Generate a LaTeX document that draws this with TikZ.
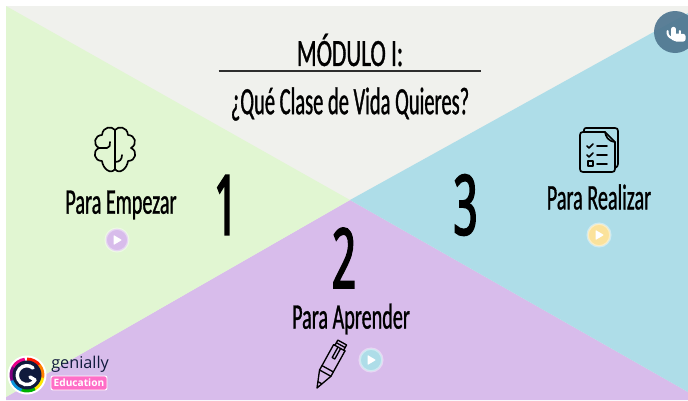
\documentclass[tikz,border=0pt]{standalone}
\usepackage{fontspec}
\newfontfamily\hand[FakeStretch=0.56,FakeBold=0.8]{Carlito}
\newfontfamily\handtitle[FakeStretch=0.6,FakeBold=0.8]{Carlito}
\newfontfamily\handask[FakeStretch=0.53,FakeBold=0.8]{Carlito}
\newfontfamily\handdigit[FakeStretch=0.5,FakeBold=2.5]{Open Sans}
\newfontfamily\logofont{Open Sans}
\setmainfont{Carlito}
\definecolor{bgGrey}{HTML}{F0F1ED}
\definecolor{bgGreen}{HTML}{E1F6D2}
\definecolor{bgPurple}{HTML}{D8BCEB}
\definecolor{bgBlue}{HTML}{AEDDE8}
\definecolor{btnYellow}{HTML}{FBE29B}
\definecolor{lockBlue}{HTML}{4F7690}
\definecolor{logoNavy}{HTML}{101A3C}
\definecolor{logoPink}{HTML}{FF6EC7}
\tikzset{
  heading/.style={font=\handtitle\fontsize{29}{32}\selectfont,inner sep=0pt,text=black},
  askline/.style={font=\handask\fontsize{29}{32}\selectfont,inner sep=0pt,text=black},
  subhead/.style={font=\hand\fontsize{27}{30}\selectfont,inner sep=0pt,text=black},
  numeral/.style={font=\handdigit\fontsize{62}{66}\selectfont,inner sep=0pt,text=black},
  playbtn/.style={circle,minimum size=17pt,inner sep=0pt,fill=#1,draw=white,draw opacity=0.4,line width=1.8pt},
  iconline/.style={draw=black,line width=1.25pt,line join=round,line cap=round},
}
\begin{document}
\begin{tikzpicture}[x=0.75pt,y=-0.75pt]
\useasboundingbox (0,0) rectangle (688,400);
\fill[white] (0,0) rectangle (688,400);
% background sectors
\coordinate (mid) at (350,200);
\fill[bgGrey] (6,6) rectangle (688,400);
\fill[bgPurple] (mid) -- (6,397) -- (6,400) -- (688,400) -- (688,392) -- cycle;
\fill[bgGreen] (6,6) -- (mid) -- (6,397) -- cycle;
\fill[bgBlue] (688,13) -- (mid) -- (688,392) -- cycle;
% title
\node[heading] (title) at (350,50) {MÓDULO I:};
\coordinate (ruleL) at (218.5,71);
\coordinate (ruleR) at (481,71);
\draw[line width=2.1pt,draw=black!82] (ruleL) -- (ruleR);
\node[askline] (question) at (350,104) {¿Qué Clase de Vida Quieres?};
% labels
\node[subhead] (empezar) at (121,205) {Para Empezar};
\node[subhead] (aprender) at (351,319) {Para Aprender};
\node[subhead] (realizar) at (599,197) {Para Realizar};
\node[numeral] (n1) at (226,205) {1};
\node[numeral] (n2) at (344,258) {2};
\node[numeral] (n3) at (465.5,205) {3};
% play buttons
\node[playbtn=bgPurple] (play1) at (117,240) {};
\node[playbtn=bgBlue] (play2) at (371,360) {};
\node[playbtn=btnYellow] (play3) at (599,235) {};
\foreach \b in {play1,play2,play3}{
  \fill[white,rounded corners=0.5pt,shift={(\b)}] (-3.5,-5) -- (5,0) -- (-3.5,5) -- cycle;
}
% brain icon
\begin{scope}[shift={(115,150)}]
  \foreach \s in {1,-1}{
  \begin{scope}[xscale=\s]
    \draw[iconline] (0,-20) .. controls (-3,-24) and (-12,-24) .. (-13,-15)
      .. controls (-20,-15) and (-23,-6) .. (-16,-2)
      .. controls (-23,1) and (-21,11) .. (-13,11)
      .. controls (-12,19) and (-4,25) .. (0,19);
  \end{scope}
  }
  \draw[iconline] (0,-20) -- (0,20);
  \draw[iconline] (-16,-2) -- (-8,-2) .. controls (-5,-2) and (-5,-5) .. (-5,-8);
  \draw[iconline] (0,12) .. controls (5,12) and (7,9) .. (7,5);
\end{scope}
% document icon
\begin{scope}[shift={(580,128)}]
  \draw[iconline] (4,3) -- (4,2) .. controls (4,0.5) and (5,0) .. (6,0) -- (35,0) .. controls (37,0) and (38,1) .. (38,3) -- (38,36) .. controls (38,38) and (37,39) .. (35,40);
  \draw[iconline,fill=bgBlue] (3,4) -- (25,4) -- (35,14) -- (35,41) .. controls (35,43) and (34,44) .. (32,44) -- (3,44) .. controls (1,44) and (0,43) .. (0,41) -- (0,7) .. controls (0,5) and (1,4) .. (3,4) -- cycle;
  \draw[iconline] (25,4) .. controls (26,9) and (28,13) .. (35,14);
  \draw[iconline] (7,18) -- (9,20) -- (13,16);
  \draw[iconline] (17,18) -- (27,18);
  \draw[iconline] (7,27) -- (9,29) -- (13,25);
  \draw[iconline] (17,27) -- (27,27);
  \draw[iconline] (8,33) rectangle (13,38);
  \draw[iconline] (17,36) -- (27,36);
\end{scope}
% pencil icon
\begin{scope}[shift={(317,388)},rotate=-29]
  \draw[iconline,line width=1pt] (0,0) -- (-6.5,-17) -- (-6.5,-46) -- (-5,-46) -- (-5,-52) -- (5,-52) -- (5,-46) -- (6.5,-46) -- (6.5,-17) -- cycle;
  \draw[iconline,line width=1pt] (-6.5,-17) -- (6.5,-17);
  \draw[iconline,line width=1pt] (-6.5,-22) -- (6.5,-22);
  \draw[iconline,line width=1pt] (-2,-6) -- (2,-6);
  \draw[iconline,line width=1pt] (-6.5,-46) -- (6.5,-46);
  \draw[iconline,line width=1pt] (-1.5,-46) -- (-1.5,-34) -- (1.5,-34) -- (1.5,-46);
  \draw[iconline,line width=1pt] (-5,-49) -- (5,-49);
\end{scope}
% genially logo
\fill[white] (27,375) circle (19.5);
\begin{scope}[shift={(27,375)}]
  \foreach \a/\c in {-90/red!80!orange,-40/orange,10/yellow!90!orange,60/green!70!black,110/cyan!80!blue,160/violet,210/magenta}{
    \draw[line width=2.6pt,\c] (\a:15.7) arc (\a:\a+52:15.7);
  }
  \fill[logoNavy] (0,0) circle (14.5);
  \draw[white,line width=2.6pt,line cap=round] (6,-7) arc (-49:-330:9.5);
  \draw[white,line width=2.6pt,line cap=round] (3,2) -- (8,5);
\end{scope}
\node[font=\logofont\fontsize{12.2}{14}\selectfont,text=logoNavy,inner sep=0pt,anchor=west] (brand) at (51,364) {genially};
\node[font=\logofont\bfseries\fontsize{7.6}{9}\selectfont,text=white,fill=logoPink,draw=white,line width=0.7pt,rounded corners=1.5pt,minimum width=42pt,minimum height=10.5pt,inner sep=0pt] (edu) at (79,383) {Education};
% hand button
\begin{scope}
  \clip (0,0) rectangle (688,400);
  \fill[lockBlue,fill opacity=0.92] (675,32) circle (21);
  \draw[white,line width=1.5pt,line cap=round] (667.5,31) arc (190:-10:6.3);
  \draw[white,line width=3.2pt,line cap=round] (673.5,29) -- (673.5,37);
  \fill[white,rounded corners=1.6pt] (672,33.5) -- (685.5,34) -- (685.5,41.5) -- (674,41.5) -- (667.5,35.5) -- (672,37) -- cycle;
\end{scope}
\end{tikzpicture}
\end{document}
